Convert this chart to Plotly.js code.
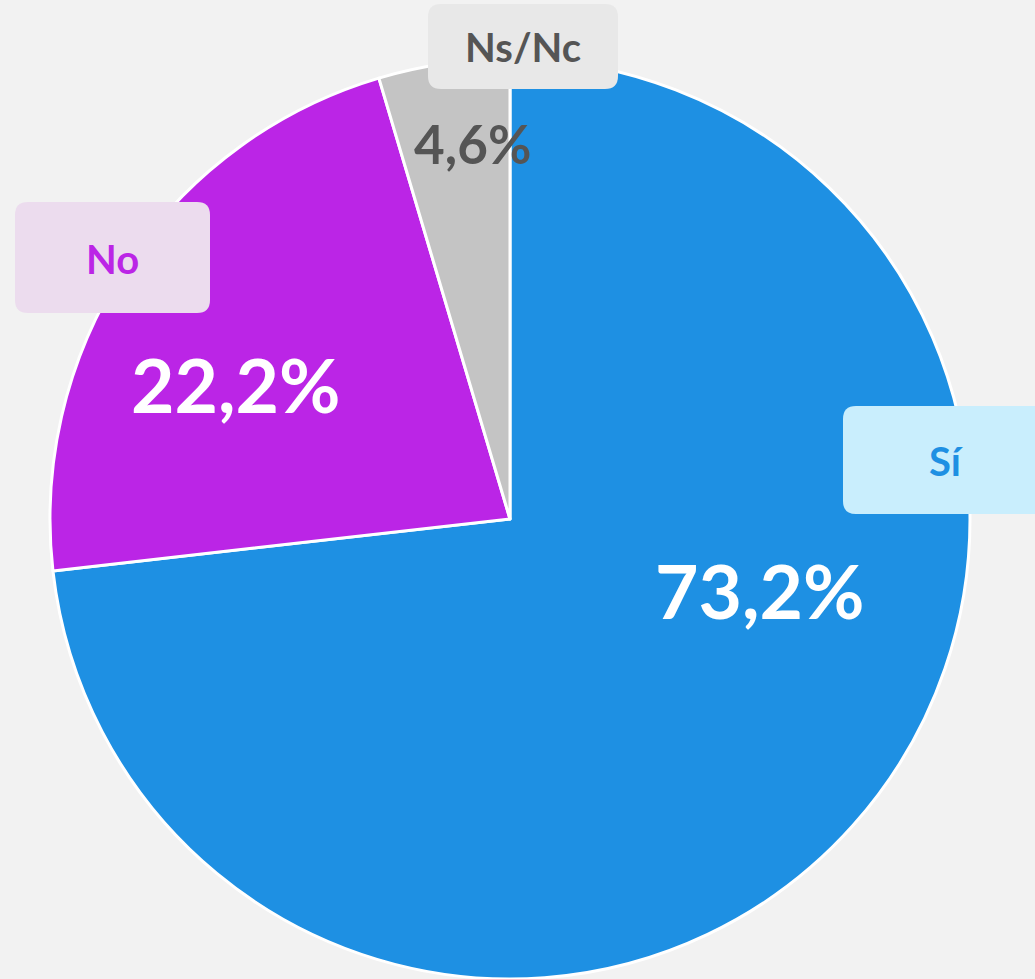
<!DOCTYPE html>
<html>
<head>
<meta charset="utf-8">
<script src="https://cdn.plot.ly/plotly-3.0.1.min.js"></script>
<style>
  html, body { margin: 0; padding: 0; background: #f2f2f2; }
  #chart { width: 1035px; height: 979px; }
</style>
</head>
<body>
<div id="chart"></div>
<script>
// ---- Data ----
const categories = ["Sí", "No", "Ns/Nc"];
const values = [73.2, 22.2, 4.6];

// ---- Styles ----
const sliceColors = ["#1e90e3", "#bb25e6", "#c4c4c4"];
const pctColors = ["#ffffff", "#ffffff", "#555555"];
const pctSizes = [75, 75, 53];
const boxColors = ["#c9eefd", "#ecdcee", "#e8e8e8"];
const labelColors = ["#1e90e3", "#bb25e6", "#555555"];

// ---- Positions (pixels) ----
const W = 1035, H = 979;
const pctPos = [[760, 590], [236, 384], [472, 143]];
const boxRects = [[843, 406, 1049, 514], [15, 202, 210, 313], [428, 4, 618, 89]];
const boxRadius = 13;

const px = x => x / W;
const py = y => 1 - y / H;

function roundRect(x0, y0, x1, y1, r) {
  const p = (x, y) => px(x) + "," + py(y);
  return "M" + p(x0 + r, y0) +
    " L" + p(x1 - r, y0) + " Q" + p(x1, y0) + " " + p(x1, y0 + r) +
    " L" + p(x1, y1 - r) + " Q" + p(x1, y1) + " " + p(x1 - r, y1) +
    " L" + p(x0 + r, y1) + " Q" + p(x0, y1) + " " + p(x0, y1 - r) +
    " L" + p(x0, y0 + r) + " Q" + p(x0, y0) + " " + p(x0 + r, y0) + " Z";
}

const fmt = v => v.toFixed(1).replace(".", ",") + "%";

const cx = 510, cy = 519, R = 460;

const trace = {
  type: "pie",
  labels: categories,
  values: values,
  sort: false,
  direction: "clockwise",
  rotation: 0,
  textinfo: "none",
  hoverinfo: "label+percent",
  marker: { colors: sliceColors, line: { color: "#ffffff", width: 3 } },
  domain: { x: [px(cx - R), px(cx + R)], y: [py(cy + R), py(cy - R)] },
  showlegend: false
};

const shapes = boxRects.map((b, i) => ({
  type: "path", xref: "paper", yref: "paper", layer: "above",
  path: roundRect(b[0], b[1], b[2], b[3], boxRadius),
  fillcolor: boxColors[i], line: { width: 0 }
}));

const font = "Lato, 'Open Sans', sans-serif";
const annotations = [];
categories.forEach((c, i) => {
  const b = boxRects[i];
  annotations.push({
    xref: "paper", yref: "paper",
    x: px((b[0] + b[2]) / 2), y: py((b[1] + b[3]) / 2 + 1),
    xanchor: "center", yanchor: "middle", showarrow: false,
    text: "<b>" + c + "</b>",
    font: { family: font, size: 40, color: labelColors[i] }
  });
  annotations.push({
    xref: "paper", yref: "paper",
    x: px(pctPos[i][0]), y: py(pctPos[i][1]),
    xanchor: "center", yanchor: "middle", showarrow: false,
    text: "<b>" + fmt(values[i]) + "</b>",
    font: { family: font, size: pctSizes[i], color: pctColors[i] }
  });
});

const layout = {
  width: W, height: H,
  margin: { l: 0, r: 0, t: 0, b: 0 },
  paper_bgcolor: "#f2f2f2",
  plot_bgcolor: "#f2f2f2",
  shapes: shapes,
  annotations: annotations
};

Plotly.newPlot("chart", [trace], layout, { displayModeBar: false, staticPlot: true });
</script>
</body>
</html>
